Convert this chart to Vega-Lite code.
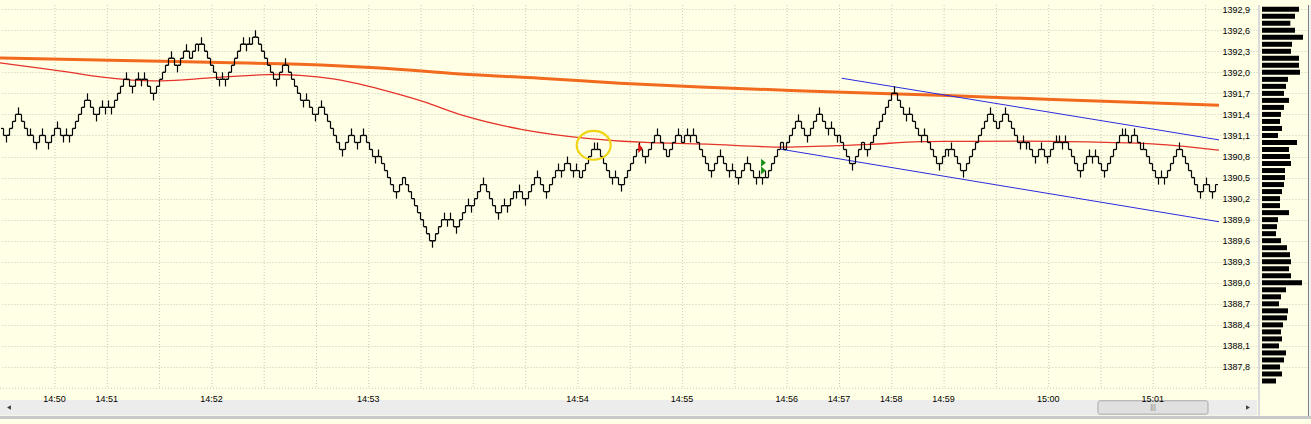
{
"$schema":"https://vega.github.io/schema/vega-lite/v6.json",
"width":1311,"height":424,
"autosize":{"type":"none"},
"padding":0,
"background":"#FFFFE6",
"config":{"view":{"stroke":null},"axis":{"labelFont":"Liberation Sans","labelFontSize":9,"labelColor":"#000000","title":null,"labelOverlap":false,"labelSeparation":0,"labelBound":false}},
"datasets":{
"minutes":[{"i":17.17},{"i":34.6},{"i":52.03},{"i":69.47},{"i":86.9},{"i":104.33},{"i":121.77},{"i":139.2},{"i":156.63},{"i":174.07},{"i":191.5},{"i":208.93},{"i":226.37},{"i":243.8},{"i":261.23},{"i":278.67},{"i":296.1},{"i":313.53},{"i":330.97},{"i":348.4},{"i":365.83},{"i":383.27},{"i":400.7}],
"slow":[{"i":-1.17,"p":1392.204},{"i":35.5,"p":1392.173},{"i":72.2,"p":1392.139},{"i":98.8,"p":1392.115},{"i":125.5,"p":1392.062},{"i":152.2,"p":1391.976},{"i":178.8,"p":1391.916},{"i":205.5,"p":1391.846},{"i":232.2,"p":1391.791},{"i":272.2,"p":1391.728},{"i":312.2,"p":1391.672},{"i":349.8,"p":1391.614},{"i":405.17,"p":1391.53}],
"fast":[{"i":-1.17,"p":1392.134},{"i":21.2,"p":1392.009},{"i":32.2,"p":1391.93},{"i":43.2,"p":1391.884},{"i":52.2,"p":1391.87},{"i":65.5,"p":1391.912},{"i":76.5,"p":1391.94},{"i":87.8,"p":1391.976},{"i":98.8,"p":1391.962},{"i":109.8,"p":1391.916},{"i":121.2,"p":1391.811},{"i":132.2,"p":1391.683},{"i":143.2,"p":1391.544},{"i":152.2,"p":1391.383},{"i":172.2,"p":1391.174},{"i":194.5,"p":1391.049},{"i":216.5,"p":1390.987},{"i":233.2,"p":1390.987},{"i":258.8,"p":1390.918},{"i":272.2,"p":1390.951},{"i":288.8,"p":1390.965},{"i":305.5,"p":1391.025},{"i":322.2,"p":1391.011},{"i":338.8,"p":1391.025},{"i":361.2,"p":1391.011},{"i":383.2,"p":1390.987},{"i":394.5,"p":1390.942},{"i":405.17,"p":1390.89}],
"channel":[{"k":"u","i":279.4,"p":1391.916},{"k":"u","i":405.17,"p":1391.037},{"k":"l","i":259.17,"p":1390.904},{"k":"l","i":405.17,"p":1389.87}],
"circle":[{"i":196.73,"p":1390.96}],
"sell":[{"i":212.33,"p":1390.918}],
"buy":[{"i":253.33,"p":1390.711},{"i":253.33,"p":1390.602}],
"profile":[{"p":1392.9,"v":111},{"p":1392.8,"v":99},{"p":1392.7,"v":85},{"p":1392.6,"v":99},{"p":1392.5,"v":123},{"p":1392.4,"v":90},{"p":1392.3,"v":87},{"p":1392.2,"v":111},{"p":1392.1,"v":111},{"p":1392.0,"v":114},{"p":1391.9,"v":78},{"p":1391.8,"v":72},{"p":1391.7,"v":66},{"p":1391.6,"v":81},{"p":1391.5,"v":66},{"p":1391.4,"v":57},{"p":1391.3,"v":54},{"p":1391.2,"v":60},{"p":1391.1,"v":48},{"p":1391.0,"v":105},{"p":1390.9,"v":81},{"p":1390.8,"v":84},{"p":1390.7,"v":87},{"p":1390.6,"v":69},{"p":1390.5,"v":69},{"p":1390.4,"v":66},{"p":1390.3,"v":60},{"p":1390.2,"v":54},{"p":1390.1,"v":54},{"p":1390.0,"v":81},{"p":1389.9,"v":48},{"p":1389.8,"v":45},{"p":1389.7,"v":42},{"p":1389.6,"v":57},{"p":1389.5,"v":75},{"p":1389.4,"v":84},{"p":1389.3,"v":87},{"p":1389.2,"v":81},{"p":1389.1,"v":87},{"p":1389.0,"v":120},{"p":1388.9,"v":72},{"p":1388.8,"v":57},{"p":1388.7,"v":51},{"p":1388.6,"v":78},{"p":1388.5,"v":75},{"p":1388.4,"v":63},{"p":1388.3,"v":57},{"p":1388.2,"v":60},{"p":1388.1,"v":51},{"p":1388.0,"v":72},{"p":1387.9,"v":66},{"p":1387.8,"v":54},{"p":1387.7,"v":60},{"p":1387.6,"v":42}],
"bars":[
{"i":0,"o":1391.2,"h":1391.2,"l":1391.1,"c":1391.1},
{"i":1,"o":1391.1,"h":1391.1,"l":1391.0,"c":1391.1},
{"i":2,"o":1391.1,"h":1391.2,"l":1391.1,"c":1391.2},
{"i":3,"o":1391.2,"h":1391.3,"l":1391.2,"c":1391.3},
{"i":4,"o":1391.3,"h":1391.4,"l":1391.3,"c":1391.4},
{"i":5,"o":1391.4,"h":1391.5,"l":1391.4,"c":1391.4},
{"i":6,"o":1391.4,"h":1391.4,"l":1391.3,"c":1391.3},
{"i":7,"o":1391.3,"h":1391.3,"l":1391.2,"c":1391.2},
{"i":8,"o":1391.2,"h":1391.2,"l":1391.1,"c":1391.1},
{"i":9,"o":1391.1,"h":1391.2,"l":1391.1,"c":1391.1},
{"i":10,"o":1391.1,"h":1391.1,"l":1391.0,"c":1391.0},
{"i":11,"o":1391.0,"h":1391.0,"l":1390.9,"c":1391.0},
{"i":12,"o":1391.0,"h":1391.1,"l":1391.0,"c":1391.1},
{"i":13,"o":1391.1,"h":1391.2,"l":1391.1,"c":1391.1},
{"i":14,"o":1391.1,"h":1391.1,"l":1391.0,"c":1391.0},
{"i":15,"o":1391.0,"h":1391.0,"l":1390.9,"c":1391.0},
{"i":16,"o":1391.0,"h":1391.1,"l":1391.0,"c":1391.1},
{"i":17,"o":1391.1,"h":1391.2,"l":1391.1,"c":1391.2},
{"i":18,"o":1391.2,"h":1391.3,"l":1391.2,"c":1391.2},
{"i":19,"o":1391.2,"h":1391.2,"l":1391.1,"c":1391.1},
{"i":20,"o":1391.1,"h":1391.1,"l":1391.0,"c":1391.1},
{"i":21,"o":1391.1,"h":1391.2,"l":1391.1,"c":1391.1},
{"i":22,"o":1391.1,"h":1391.1,"l":1391.0,"c":1391.1},
{"i":23,"o":1391.1,"h":1391.2,"l":1391.1,"c":1391.2},
{"i":24,"o":1391.2,"h":1391.3,"l":1391.2,"c":1391.3},
{"i":25,"o":1391.3,"h":1391.4,"l":1391.3,"c":1391.4},
{"i":26,"o":1391.4,"h":1391.5,"l":1391.4,"c":1391.5},
{"i":27,"o":1391.5,"h":1391.6,"l":1391.5,"c":1391.6},
{"i":28,"o":1391.6,"h":1391.7,"l":1391.6,"c":1391.6},
{"i":29,"o":1391.6,"h":1391.6,"l":1391.5,"c":1391.5},
{"i":30,"o":1391.5,"h":1391.5,"l":1391.4,"c":1391.4},
{"i":31,"o":1391.4,"h":1391.4,"l":1391.3,"c":1391.4},
{"i":32,"o":1391.4,"h":1391.5,"l":1391.4,"c":1391.5},
{"i":33,"o":1391.5,"h":1391.6,"l":1391.5,"c":1391.5},
{"i":34,"o":1391.5,"h":1391.5,"l":1391.4,"c":1391.5},
{"i":35,"o":1391.5,"h":1391.6,"l":1391.5,"c":1391.5},
{"i":36,"o":1391.5,"h":1391.5,"l":1391.4,"c":1391.5},
{"i":37,"o":1391.5,"h":1391.6,"l":1391.5,"c":1391.6},
{"i":38,"o":1391.6,"h":1391.7,"l":1391.6,"c":1391.7},
{"i":39,"o":1391.7,"h":1391.8,"l":1391.7,"c":1391.8},
{"i":40,"o":1391.8,"h":1391.9,"l":1391.8,"c":1391.9},
{"i":41,"o":1391.9,"h":1392.0,"l":1391.9,"c":1391.9},
{"i":42,"o":1391.9,"h":1391.9,"l":1391.8,"c":1391.8},
{"i":43,"o":1391.8,"h":1391.8,"l":1391.7,"c":1391.8},
{"i":44,"o":1391.8,"h":1391.9,"l":1391.8,"c":1391.9},
{"i":45,"o":1391.9,"h":1392.0,"l":1391.9,"c":1391.9},
{"i":46,"o":1391.9,"h":1391.9,"l":1391.8,"c":1391.9},
{"i":47,"o":1391.9,"h":1392.0,"l":1391.9,"c":1391.9},
{"i":48,"o":1391.9,"h":1391.9,"l":1391.8,"c":1391.8},
{"i":49,"o":1391.8,"h":1391.8,"l":1391.7,"c":1391.7},
{"i":50,"o":1391.7,"h":1391.7,"l":1391.6,"c":1391.7},
{"i":51,"o":1391.7,"h":1391.8,"l":1391.7,"c":1391.8},
{"i":52,"o":1391.8,"h":1391.9,"l":1391.8,"c":1391.9},
{"i":53,"o":1391.9,"h":1392.0,"l":1391.9,"c":1392.0},
{"i":54,"o":1392.0,"h":1392.1,"l":1392.0,"c":1392.1},
{"i":55,"o":1392.1,"h":1392.2,"l":1392.1,"c":1392.2},
{"i":56,"o":1392.2,"h":1392.3,"l":1392.2,"c":1392.2},
{"i":57,"o":1392.2,"h":1392.2,"l":1392.1,"c":1392.1},
{"i":58,"o":1392.1,"h":1392.1,"l":1392.0,"c":1392.1},
{"i":59,"o":1392.1,"h":1392.2,"l":1392.1,"c":1392.2},
{"i":60,"o":1392.2,"h":1392.3,"l":1392.2,"c":1392.3},
{"i":61,"o":1392.3,"h":1392.4,"l":1392.3,"c":1392.3},
{"i":62,"o":1392.3,"h":1392.3,"l":1392.2,"c":1392.2},
{"i":63,"o":1392.2,"h":1392.3,"l":1392.2,"c":1392.3},
{"i":64,"o":1392.3,"h":1392.4,"l":1392.3,"c":1392.4},
{"i":65,"o":1392.4,"h":1392.4,"l":1392.3,"c":1392.4},
{"i":66,"o":1392.4,"h":1392.5,"l":1392.4,"c":1392.4},
{"i":67,"o":1392.4,"h":1392.4,"l":1392.3,"c":1392.3},
{"i":68,"o":1392.3,"h":1392.3,"l":1392.2,"c":1392.2},
{"i":69,"o":1392.2,"h":1392.2,"l":1392.1,"c":1392.1},
{"i":70,"o":1392.1,"h":1392.1,"l":1392.0,"c":1392.0},
{"i":71,"o":1392.0,"h":1392.0,"l":1391.9,"c":1391.9},
{"i":72,"o":1391.9,"h":1391.9,"l":1391.8,"c":1391.9},
{"i":73,"o":1391.9,"h":1392.0,"l":1391.9,"c":1391.9},
{"i":74,"o":1391.9,"h":1391.9,"l":1391.8,"c":1391.9},
{"i":75,"o":1391.9,"h":1392.0,"l":1391.9,"c":1392.0},
{"i":76,"o":1392.0,"h":1392.1,"l":1392.0,"c":1392.1},
{"i":77,"o":1392.1,"h":1392.2,"l":1392.1,"c":1392.2},
{"i":78,"o":1392.2,"h":1392.3,"l":1392.2,"c":1392.3},
{"i":79,"o":1392.3,"h":1392.4,"l":1392.3,"c":1392.4},
{"i":80,"o":1392.4,"h":1392.5,"l":1392.4,"c":1392.4},
{"i":81,"o":1392.4,"h":1392.4,"l":1392.3,"c":1392.4},
{"i":82,"o":1392.4,"h":1392.5,"l":1392.4,"c":1392.4},
{"i":83,"o":1392.4,"h":1392.5,"l":1392.4,"c":1392.5},
{"i":84,"o":1392.5,"h":1392.6,"l":1392.5,"c":1392.5},
{"i":85,"o":1392.5,"h":1392.5,"l":1392.4,"c":1392.4},
{"i":86,"o":1392.4,"h":1392.4,"l":1392.3,"c":1392.3},
{"i":87,"o":1392.3,"h":1392.3,"l":1392.2,"c":1392.2},
{"i":88,"o":1392.2,"h":1392.2,"l":1392.1,"c":1392.1},
{"i":89,"o":1392.1,"h":1392.1,"l":1392.0,"c":1392.0},
{"i":90,"o":1392.0,"h":1392.0,"l":1391.9,"c":1391.9},
{"i":91,"o":1391.9,"h":1391.9,"l":1391.8,"c":1391.9},
{"i":92,"o":1391.9,"h":1392.0,"l":1391.9,"c":1392.0},
{"i":93,"o":1392.0,"h":1392.1,"l":1392.0,"c":1392.1},
{"i":94,"o":1392.1,"h":1392.2,"l":1392.1,"c":1392.1},
{"i":95,"o":1392.1,"h":1392.1,"l":1392.0,"c":1392.0},
{"i":96,"o":1392.0,"h":1392.0,"l":1391.9,"c":1391.9},
{"i":97,"o":1391.9,"h":1391.9,"l":1391.8,"c":1391.8},
{"i":98,"o":1391.8,"h":1391.8,"l":1391.7,"c":1391.7},
{"i":99,"o":1391.7,"h":1391.7,"l":1391.6,"c":1391.6},
{"i":100,"o":1391.6,"h":1391.6,"l":1391.5,"c":1391.6},
{"i":101,"o":1391.6,"h":1391.7,"l":1391.6,"c":1391.6},
{"i":102,"o":1391.6,"h":1391.6,"l":1391.5,"c":1391.5},
{"i":103,"o":1391.5,"h":1391.5,"l":1391.4,"c":1391.4},
{"i":104,"o":1391.4,"h":1391.4,"l":1391.3,"c":1391.4},
{"i":105,"o":1391.4,"h":1391.5,"l":1391.4,"c":1391.5},
{"i":106,"o":1391.5,"h":1391.6,"l":1391.5,"c":1391.5},
{"i":107,"o":1391.5,"h":1391.5,"l":1391.4,"c":1391.4},
{"i":108,"o":1391.4,"h":1391.4,"l":1391.3,"c":1391.3},
{"i":109,"o":1391.3,"h":1391.3,"l":1391.2,"c":1391.2},
{"i":110,"o":1391.2,"h":1391.2,"l":1391.1,"c":1391.1},
{"i":111,"o":1391.1,"h":1391.1,"l":1391.0,"c":1391.0},
{"i":112,"o":1391.0,"h":1391.0,"l":1390.9,"c":1390.9},
{"i":113,"o":1390.9,"h":1390.9,"l":1390.8,"c":1390.9},
{"i":114,"o":1390.9,"h":1391.0,"l":1390.9,"c":1391.0},
{"i":115,"o":1391.0,"h":1391.1,"l":1391.0,"c":1391.1},
{"i":116,"o":1391.1,"h":1391.2,"l":1391.1,"c":1391.1},
{"i":117,"o":1391.1,"h":1391.1,"l":1391.0,"c":1391.0},
{"i":118,"o":1391.0,"h":1391.0,"l":1390.9,"c":1391.0},
{"i":119,"o":1391.0,"h":1391.1,"l":1391.0,"c":1391.1},
{"i":120,"o":1391.1,"h":1391.2,"l":1391.1,"c":1391.1},
{"i":121,"o":1391.1,"h":1391.1,"l":1391.0,"c":1391.0},
{"i":122,"o":1391.0,"h":1391.0,"l":1390.9,"c":1390.9},
{"i":123,"o":1390.9,"h":1390.9,"l":1390.8,"c":1390.8},
{"i":124,"o":1390.8,"h":1390.8,"l":1390.7,"c":1390.8},
{"i":125,"o":1390.8,"h":1390.9,"l":1390.8,"c":1390.8},
{"i":126,"o":1390.8,"h":1390.8,"l":1390.7,"c":1390.7},
{"i":127,"o":1390.7,"h":1390.7,"l":1390.6,"c":1390.6},
{"i":128,"o":1390.6,"h":1390.6,"l":1390.5,"c":1390.5},
{"i":129,"o":1390.5,"h":1390.5,"l":1390.4,"c":1390.4},
{"i":130,"o":1390.4,"h":1390.4,"l":1390.3,"c":1390.3},
{"i":131,"o":1390.3,"h":1390.3,"l":1390.2,"c":1390.3},
{"i":132,"o":1390.3,"h":1390.4,"l":1390.3,"c":1390.4},
{"i":133,"o":1390.4,"h":1390.5,"l":1390.4,"c":1390.5},
{"i":134,"o":1390.5,"h":1390.5,"l":1390.4,"c":1390.4},
{"i":135,"o":1390.4,"h":1390.4,"l":1390.3,"c":1390.3},
{"i":136,"o":1390.3,"h":1390.3,"l":1390.2,"c":1390.2},
{"i":137,"o":1390.2,"h":1390.2,"l":1390.1,"c":1390.1},
{"i":138,"o":1390.1,"h":1390.1,"l":1390.0,"c":1390.0},
{"i":139,"o":1390.0,"h":1390.0,"l":1389.9,"c":1389.9},
{"i":140,"o":1389.9,"h":1389.9,"l":1389.8,"c":1389.8},
{"i":141,"o":1389.8,"h":1389.8,"l":1389.7,"c":1389.7},
{"i":142,"o":1389.7,"h":1389.7,"l":1389.6,"c":1389.6},
{"i":143,"o":1389.6,"h":1389.6,"l":1389.5,"c":1389.6},
{"i":144,"o":1389.6,"h":1389.7,"l":1389.6,"c":1389.7},
{"i":145,"o":1389.7,"h":1389.8,"l":1389.7,"c":1389.8},
{"i":146,"o":1389.8,"h":1389.9,"l":1389.8,"c":1389.9},
{"i":147,"o":1389.9,"h":1390.0,"l":1389.9,"c":1389.9},
{"i":148,"o":1389.9,"h":1389.9,"l":1389.8,"c":1389.9},
{"i":149,"o":1389.9,"h":1390.0,"l":1389.9,"c":1389.9},
{"i":150,"o":1389.9,"h":1389.9,"l":1389.8,"c":1389.8},
{"i":151,"o":1389.8,"h":1389.8,"l":1389.7,"c":1389.8},
{"i":152,"o":1389.8,"h":1389.9,"l":1389.8,"c":1389.9},
{"i":153,"o":1389.9,"h":1390.0,"l":1389.9,"c":1390.0},
{"i":154,"o":1390.0,"h":1390.1,"l":1390.0,"c":1390.1},
{"i":155,"o":1390.1,"h":1390.2,"l":1390.1,"c":1390.1},
{"i":156,"o":1390.1,"h":1390.1,"l":1390.0,"c":1390.1},
{"i":157,"o":1390.1,"h":1390.2,"l":1390.1,"c":1390.2},
{"i":158,"o":1390.2,"h":1390.3,"l":1390.2,"c":1390.3},
{"i":159,"o":1390.3,"h":1390.4,"l":1390.3,"c":1390.4},
{"i":160,"o":1390.4,"h":1390.5,"l":1390.4,"c":1390.4},
{"i":161,"o":1390.4,"h":1390.4,"l":1390.3,"c":1390.3},
{"i":162,"o":1390.3,"h":1390.3,"l":1390.2,"c":1390.2},
{"i":163,"o":1390.2,"h":1390.2,"l":1390.1,"c":1390.1},
{"i":164,"o":1390.1,"h":1390.1,"l":1390.0,"c":1390.0},
{"i":165,"o":1390.0,"h":1390.0,"l":1389.9,"c":1390.0},
{"i":166,"o":1390.0,"h":1390.1,"l":1390.0,"c":1390.1},
{"i":167,"o":1390.1,"h":1390.2,"l":1390.1,"c":1390.1},
{"i":168,"o":1390.1,"h":1390.1,"l":1390.0,"c":1390.1},
{"i":169,"o":1390.1,"h":1390.2,"l":1390.1,"c":1390.2},
{"i":170,"o":1390.2,"h":1390.3,"l":1390.2,"c":1390.3},
{"i":171,"o":1390.3,"h":1390.3,"l":1390.2,"c":1390.3},
{"i":172,"o":1390.3,"h":1390.4,"l":1390.3,"c":1390.3},
{"i":173,"o":1390.3,"h":1390.3,"l":1390.2,"c":1390.2},
{"i":174,"o":1390.2,"h":1390.2,"l":1390.1,"c":1390.2},
{"i":175,"o":1390.2,"h":1390.3,"l":1390.2,"c":1390.3},
{"i":176,"o":1390.3,"h":1390.4,"l":1390.3,"c":1390.4},
{"i":177,"o":1390.4,"h":1390.5,"l":1390.4,"c":1390.5},
{"i":178,"o":1390.5,"h":1390.6,"l":1390.5,"c":1390.5},
{"i":179,"o":1390.5,"h":1390.5,"l":1390.4,"c":1390.4},
{"i":180,"o":1390.4,"h":1390.4,"l":1390.3,"c":1390.3},
{"i":181,"o":1390.3,"h":1390.3,"l":1390.2,"c":1390.3},
{"i":182,"o":1390.3,"h":1390.4,"l":1390.3,"c":1390.4},
{"i":183,"o":1390.4,"h":1390.5,"l":1390.4,"c":1390.5},
{"i":184,"o":1390.5,"h":1390.6,"l":1390.5,"c":1390.6},
{"i":185,"o":1390.6,"h":1390.7,"l":1390.6,"c":1390.6},
{"i":186,"o":1390.6,"h":1390.6,"l":1390.5,"c":1390.6},
{"i":187,"o":1390.6,"h":1390.7,"l":1390.6,"c":1390.7},
{"i":188,"o":1390.7,"h":1390.8,"l":1390.7,"c":1390.7},
{"i":189,"o":1390.7,"h":1390.7,"l":1390.6,"c":1390.6},
{"i":190,"o":1390.6,"h":1390.6,"l":1390.5,"c":1390.6},
{"i":191,"o":1390.6,"h":1390.7,"l":1390.6,"c":1390.6},
{"i":192,"o":1390.6,"h":1390.6,"l":1390.5,"c":1390.5},
{"i":193,"o":1390.5,"h":1390.6,"l":1390.5,"c":1390.6},
{"i":194,"o":1390.6,"h":1390.7,"l":1390.6,"c":1390.7},
{"i":195,"o":1390.7,"h":1390.8,"l":1390.7,"c":1390.8},
{"i":196,"o":1390.8,"h":1390.9,"l":1390.8,"c":1390.9},
{"i":197,"o":1390.9,"h":1391.0,"l":1390.9,"c":1390.9},
{"i":198,"o":1390.9,"h":1391.0,"l":1390.9,"c":1390.9},
{"i":199,"o":1390.9,"h":1390.9,"l":1390.8,"c":1390.8},
{"i":200,"o":1390.8,"h":1390.8,"l":1390.7,"c":1390.7},
{"i":201,"o":1390.7,"h":1390.7,"l":1390.6,"c":1390.6},
{"i":202,"o":1390.6,"h":1390.6,"l":1390.5,"c":1390.5},
{"i":203,"o":1390.5,"h":1390.5,"l":1390.4,"c":1390.5},
{"i":204,"o":1390.5,"h":1390.6,"l":1390.5,"c":1390.5},
{"i":205,"o":1390.5,"h":1390.5,"l":1390.4,"c":1390.4},
{"i":206,"o":1390.4,"h":1390.4,"l":1390.3,"c":1390.4},
{"i":207,"o":1390.4,"h":1390.5,"l":1390.4,"c":1390.5},
{"i":208,"o":1390.5,"h":1390.6,"l":1390.5,"c":1390.6},
{"i":209,"o":1390.6,"h":1390.7,"l":1390.6,"c":1390.7},
{"i":210,"o":1390.7,"h":1390.8,"l":1390.7,"c":1390.8},
{"i":211,"o":1390.8,"h":1390.9,"l":1390.8,"c":1390.9},
{"i":212,"o":1390.9,"h":1391.0,"l":1390.9,"c":1390.9},
{"i":213,"o":1390.9,"h":1390.9,"l":1390.8,"c":1390.8},
{"i":214,"o":1390.8,"h":1390.8,"l":1390.7,"c":1390.8},
{"i":215,"o":1390.8,"h":1390.9,"l":1390.8,"c":1390.9},
{"i":216,"o":1390.9,"h":1391.0,"l":1390.9,"c":1391.0},
{"i":217,"o":1391.0,"h":1391.1,"l":1391.0,"c":1391.1},
{"i":218,"o":1391.1,"h":1391.2,"l":1391.1,"c":1391.1},
{"i":219,"o":1391.1,"h":1391.1,"l":1391.0,"c":1391.0},
{"i":220,"o":1391.0,"h":1391.0,"l":1390.9,"c":1390.9},
{"i":221,"o":1390.9,"h":1390.9,"l":1390.8,"c":1390.8},
{"i":222,"o":1390.8,"h":1390.9,"l":1390.8,"c":1390.9},
{"i":223,"o":1390.9,"h":1391.0,"l":1390.9,"c":1391.0},
{"i":224,"o":1391.0,"h":1391.1,"l":1391.0,"c":1391.1},
{"i":225,"o":1391.1,"h":1391.2,"l":1391.1,"c":1391.1},
{"i":226,"o":1391.1,"h":1391.1,"l":1391.0,"c":1391.0},
{"i":227,"o":1391.0,"h":1391.1,"l":1391.0,"c":1391.1},
{"i":228,"o":1391.1,"h":1391.2,"l":1391.1,"c":1391.1},
{"i":229,"o":1391.1,"h":1391.1,"l":1391.0,"c":1391.1},
{"i":230,"o":1391.1,"h":1391.2,"l":1391.1,"c":1391.1},
{"i":231,"o":1391.1,"h":1391.1,"l":1391.0,"c":1391.0},
{"i":232,"o":1391.0,"h":1391.0,"l":1390.9,"c":1390.9},
{"i":233,"o":1390.9,"h":1390.9,"l":1390.8,"c":1390.8},
{"i":234,"o":1390.8,"h":1390.8,"l":1390.7,"c":1390.7},
{"i":235,"o":1390.7,"h":1390.7,"l":1390.6,"c":1390.6},
{"i":236,"o":1390.6,"h":1390.6,"l":1390.5,"c":1390.6},
{"i":237,"o":1390.6,"h":1390.7,"l":1390.6,"c":1390.7},
{"i":238,"o":1390.7,"h":1390.8,"l":1390.7,"c":1390.8},
{"i":239,"o":1390.8,"h":1390.9,"l":1390.8,"c":1390.8},
{"i":240,"o":1390.8,"h":1390.8,"l":1390.7,"c":1390.7},
{"i":241,"o":1390.7,"h":1390.7,"l":1390.6,"c":1390.6},
{"i":242,"o":1390.6,"h":1390.6,"l":1390.5,"c":1390.6},
{"i":243,"o":1390.6,"h":1390.7,"l":1390.6,"c":1390.6},
{"i":244,"o":1390.6,"h":1390.6,"l":1390.5,"c":1390.5},
{"i":245,"o":1390.5,"h":1390.5,"l":1390.4,"c":1390.5},
{"i":246,"o":1390.5,"h":1390.6,"l":1390.5,"c":1390.6},
{"i":247,"o":1390.6,"h":1390.7,"l":1390.6,"c":1390.7},
{"i":248,"o":1390.7,"h":1390.8,"l":1390.7,"c":1390.7},
{"i":249,"o":1390.7,"h":1390.7,"l":1390.6,"c":1390.6},
{"i":250,"o":1390.6,"h":1390.6,"l":1390.5,"c":1390.5},
{"i":251,"o":1390.5,"h":1390.5,"l":1390.4,"c":1390.5},
{"i":252,"o":1390.5,"h":1390.6,"l":1390.5,"c":1390.5},
{"i":253,"o":1390.5,"h":1390.5,"l":1390.4,"c":1390.5},
{"i":254,"o":1390.5,"h":1390.6,"l":1390.5,"c":1390.5},
{"i":255,"o":1390.5,"h":1390.6,"l":1390.5,"c":1390.6},
{"i":256,"o":1390.6,"h":1390.7,"l":1390.6,"c":1390.7},
{"i":257,"o":1390.7,"h":1390.8,"l":1390.7,"c":1390.8},
{"i":258,"o":1390.8,"h":1390.9,"l":1390.8,"c":1390.9},
{"i":259,"o":1390.9,"h":1391.0,"l":1390.9,"c":1391.0},
{"i":260,"o":1391.0,"h":1391.0,"l":1390.9,"c":1390.9},
{"i":261,"o":1390.9,"h":1391.0,"l":1390.9,"c":1391.0},
{"i":262,"o":1391.0,"h":1391.1,"l":1391.0,"c":1391.1},
{"i":263,"o":1391.1,"h":1391.2,"l":1391.1,"c":1391.2},
{"i":264,"o":1391.2,"h":1391.3,"l":1391.2,"c":1391.3},
{"i":265,"o":1391.3,"h":1391.4,"l":1391.3,"c":1391.3},
{"i":266,"o":1391.3,"h":1391.3,"l":1391.2,"c":1391.2},
{"i":267,"o":1391.2,"h":1391.2,"l":1391.1,"c":1391.1},
{"i":268,"o":1391.1,"h":1391.1,"l":1391.0,"c":1391.1},
{"i":269,"o":1391.1,"h":1391.2,"l":1391.1,"c":1391.2},
{"i":270,"o":1391.2,"h":1391.3,"l":1391.2,"c":1391.3},
{"i":271,"o":1391.3,"h":1391.4,"l":1391.3,"c":1391.4},
{"i":272,"o":1391.4,"h":1391.5,"l":1391.4,"c":1391.4},
{"i":273,"o":1391.4,"h":1391.4,"l":1391.3,"c":1391.3},
{"i":274,"o":1391.3,"h":1391.3,"l":1391.2,"c":1391.2},
{"i":275,"o":1391.2,"h":1391.2,"l":1391.1,"c":1391.2},
{"i":276,"o":1391.2,"h":1391.3,"l":1391.2,"c":1391.2},
{"i":277,"o":1391.2,"h":1391.2,"l":1391.1,"c":1391.1},
{"i":278,"o":1391.1,"h":1391.1,"l":1391.0,"c":1391.1},
{"i":279,"o":1391.1,"h":1391.1,"l":1391.0,"c":1391.0},
{"i":280,"o":1391.0,"h":1391.0,"l":1390.9,"c":1390.9},
{"i":281,"o":1390.9,"h":1390.9,"l":1390.8,"c":1390.8},
{"i":282,"o":1390.8,"h":1390.8,"l":1390.7,"c":1390.7},
{"i":283,"o":1390.7,"h":1390.7,"l":1390.6,"c":1390.7},
{"i":284,"o":1390.7,"h":1390.8,"l":1390.7,"c":1390.8},
{"i":285,"o":1390.8,"h":1390.9,"l":1390.8,"c":1390.9},
{"i":286,"o":1390.9,"h":1391.0,"l":1390.9,"c":1391.0},
{"i":287,"o":1391.0,"h":1391.0,"l":1390.9,"c":1390.9},
{"i":288,"o":1390.9,"h":1390.9,"l":1390.8,"c":1390.9},
{"i":289,"o":1390.9,"h":1391.0,"l":1390.9,"c":1391.0},
{"i":290,"o":1391.0,"h":1391.1,"l":1391.0,"c":1391.1},
{"i":291,"o":1391.1,"h":1391.2,"l":1391.1,"c":1391.2},
{"i":292,"o":1391.2,"h":1391.3,"l":1391.2,"c":1391.3},
{"i":293,"o":1391.3,"h":1391.4,"l":1391.3,"c":1391.4},
{"i":294,"o":1391.4,"h":1391.5,"l":1391.4,"c":1391.5},
{"i":295,"o":1391.5,"h":1391.6,"l":1391.5,"c":1391.6},
{"i":296,"o":1391.6,"h":1391.7,"l":1391.6,"c":1391.7},
{"i":297,"o":1391.7,"h":1391.8,"l":1391.7,"c":1391.7},
{"i":298,"o":1391.7,"h":1391.7,"l":1391.6,"c":1391.6},
{"i":299,"o":1391.6,"h":1391.6,"l":1391.5,"c":1391.5},
{"i":300,"o":1391.5,"h":1391.5,"l":1391.4,"c":1391.4},
{"i":301,"o":1391.4,"h":1391.4,"l":1391.3,"c":1391.4},
{"i":302,"o":1391.4,"h":1391.5,"l":1391.4,"c":1391.4},
{"i":303,"o":1391.4,"h":1391.4,"l":1391.3,"c":1391.3},
{"i":304,"o":1391.3,"h":1391.3,"l":1391.2,"c":1391.2},
{"i":305,"o":1391.2,"h":1391.2,"l":1391.1,"c":1391.1},
{"i":306,"o":1391.1,"h":1391.1,"l":1391.0,"c":1391.1},
{"i":307,"o":1391.1,"h":1391.2,"l":1391.1,"c":1391.1},
{"i":308,"o":1391.1,"h":1391.1,"l":1391.0,"c":1391.0},
{"i":309,"o":1391.0,"h":1391.0,"l":1390.9,"c":1390.9},
{"i":310,"o":1390.9,"h":1390.9,"l":1390.8,"c":1390.8},
{"i":311,"o":1390.8,"h":1390.8,"l":1390.7,"c":1390.7},
{"i":312,"o":1390.7,"h":1390.7,"l":1390.6,"c":1390.7},
{"i":313,"o":1390.7,"h":1390.8,"l":1390.7,"c":1390.8},
{"i":314,"o":1390.8,"h":1390.9,"l":1390.8,"c":1390.9},
{"i":315,"o":1390.9,"h":1390.9,"l":1390.8,"c":1390.9},
{"i":316,"o":1390.9,"h":1391.0,"l":1390.9,"c":1390.9},
{"i":317,"o":1390.9,"h":1390.9,"l":1390.8,"c":1390.8},
{"i":318,"o":1390.8,"h":1390.8,"l":1390.7,"c":1390.7},
{"i":319,"o":1390.7,"h":1390.7,"l":1390.6,"c":1390.6},
{"i":320,"o":1390.6,"h":1390.6,"l":1390.5,"c":1390.6},
{"i":321,"o":1390.6,"h":1390.7,"l":1390.6,"c":1390.7},
{"i":322,"o":1390.7,"h":1390.8,"l":1390.7,"c":1390.8},
{"i":323,"o":1390.8,"h":1390.9,"l":1390.8,"c":1390.9},
{"i":324,"o":1390.9,"h":1391.0,"l":1390.9,"c":1391.0},
{"i":325,"o":1391.0,"h":1391.1,"l":1391.0,"c":1391.1},
{"i":326,"o":1391.1,"h":1391.2,"l":1391.1,"c":1391.2},
{"i":327,"o":1391.2,"h":1391.3,"l":1391.2,"c":1391.3},
{"i":328,"o":1391.3,"h":1391.4,"l":1391.3,"c":1391.4},
{"i":329,"o":1391.4,"h":1391.5,"l":1391.4,"c":1391.4},
{"i":330,"o":1391.4,"h":1391.4,"l":1391.3,"c":1391.3},
{"i":331,"o":1391.3,"h":1391.3,"l":1391.2,"c":1391.2},
{"i":332,"o":1391.2,"h":1391.3,"l":1391.2,"c":1391.3},
{"i":333,"o":1391.3,"h":1391.4,"l":1391.3,"c":1391.4},
{"i":334,"o":1391.4,"h":1391.5,"l":1391.4,"c":1391.4},
{"i":335,"o":1391.4,"h":1391.4,"l":1391.3,"c":1391.3},
{"i":336,"o":1391.3,"h":1391.3,"l":1391.2,"c":1391.2},
{"i":337,"o":1391.2,"h":1391.2,"l":1391.1,"c":1391.1},
{"i":338,"o":1391.1,"h":1391.1,"l":1391.0,"c":1391.0},
{"i":339,"o":1391.0,"h":1391.0,"l":1390.9,"c":1391.0},
{"i":340,"o":1391.0,"h":1391.1,"l":1391.0,"c":1391.0},
{"i":341,"o":1391.0,"h":1391.0,"l":1390.9,"c":1391.0},
{"i":342,"o":1391.0,"h":1391.0,"l":1390.9,"c":1390.9},
{"i":343,"o":1390.9,"h":1390.9,"l":1390.8,"c":1390.8},
{"i":344,"o":1390.8,"h":1390.8,"l":1390.7,"c":1390.8},
{"i":345,"o":1390.8,"h":1390.9,"l":1390.8,"c":1390.9},
{"i":346,"o":1390.9,"h":1391.0,"l":1390.9,"c":1390.9},
{"i":347,"o":1390.9,"h":1390.9,"l":1390.8,"c":1390.8},
{"i":348,"o":1390.8,"h":1390.8,"l":1390.7,"c":1390.8},
{"i":349,"o":1390.8,"h":1390.9,"l":1390.8,"c":1390.9},
{"i":350,"o":1390.9,"h":1391.0,"l":1390.9,"c":1391.0},
{"i":351,"o":1391.0,"h":1391.1,"l":1391.0,"c":1391.0},
{"i":352,"o":1391.0,"h":1391.1,"l":1391.0,"c":1391.0},
{"i":353,"o":1391.0,"h":1391.0,"l":1390.9,"c":1391.0},
{"i":354,"o":1391.0,"h":1391.1,"l":1391.0,"c":1391.0},
{"i":355,"o":1391.0,"h":1391.0,"l":1390.9,"c":1390.9},
{"i":356,"o":1390.9,"h":1390.9,"l":1390.8,"c":1390.8},
{"i":357,"o":1390.8,"h":1390.8,"l":1390.7,"c":1390.7},
{"i":358,"o":1390.7,"h":1390.7,"l":1390.6,"c":1390.6},
{"i":359,"o":1390.6,"h":1390.6,"l":1390.5,"c":1390.6},
{"i":360,"o":1390.6,"h":1390.7,"l":1390.6,"c":1390.7},
{"i":361,"o":1390.7,"h":1390.8,"l":1390.7,"c":1390.8},
{"i":362,"o":1390.8,"h":1390.9,"l":1390.8,"c":1390.8},
{"i":363,"o":1390.8,"h":1390.8,"l":1390.7,"c":1390.8},
{"i":364,"o":1390.8,"h":1390.9,"l":1390.8,"c":1390.8},
{"i":365,"o":1390.8,"h":1390.8,"l":1390.7,"c":1390.7},
{"i":366,"o":1390.7,"h":1390.7,"l":1390.6,"c":1390.6},
{"i":367,"o":1390.6,"h":1390.6,"l":1390.5,"c":1390.6},
{"i":368,"o":1390.6,"h":1390.7,"l":1390.6,"c":1390.7},
{"i":369,"o":1390.7,"h":1390.8,"l":1390.7,"c":1390.8},
{"i":370,"o":1390.8,"h":1390.9,"l":1390.8,"c":1390.9},
{"i":371,"o":1390.9,"h":1391.0,"l":1390.9,"c":1391.0},
{"i":372,"o":1391.0,"h":1391.1,"l":1391.0,"c":1391.1},
{"i":373,"o":1391.1,"h":1391.2,"l":1391.1,"c":1391.1},
{"i":374,"o":1391.1,"h":1391.2,"l":1391.1,"c":1391.1},
{"i":375,"o":1391.1,"h":1391.1,"l":1391.0,"c":1391.0},
{"i":376,"o":1391.0,"h":1391.1,"l":1391.0,"c":1391.1},
{"i":377,"o":1391.1,"h":1391.2,"l":1391.1,"c":1391.1},
{"i":378,"o":1391.1,"h":1391.1,"l":1391.0,"c":1391.0},
{"i":379,"o":1391.0,"h":1391.0,"l":1390.9,"c":1390.9},
{"i":380,"o":1390.9,"h":1391.0,"l":1390.9,"c":1390.9},
{"i":381,"o":1390.9,"h":1390.9,"l":1390.8,"c":1390.8},
{"i":382,"o":1390.8,"h":1390.8,"l":1390.7,"c":1390.7},
{"i":383,"o":1390.7,"h":1390.7,"l":1390.6,"c":1390.6},
{"i":384,"o":1390.6,"h":1390.6,"l":1390.5,"c":1390.5},
{"i":385,"o":1390.5,"h":1390.5,"l":1390.4,"c":1390.5},
{"i":386,"o":1390.5,"h":1390.6,"l":1390.5,"c":1390.5},
{"i":387,"o":1390.5,"h":1390.5,"l":1390.4,"c":1390.5},
{"i":388,"o":1390.5,"h":1390.6,"l":1390.5,"c":1390.6},
{"i":389,"o":1390.6,"h":1390.7,"l":1390.6,"c":1390.7},
{"i":390,"o":1390.7,"h":1390.8,"l":1390.7,"c":1390.8},
{"i":391,"o":1390.8,"h":1390.9,"l":1390.8,"c":1390.9},
{"i":392,"o":1390.9,"h":1391.0,"l":1390.9,"c":1390.9},
{"i":393,"o":1390.9,"h":1390.9,"l":1390.8,"c":1390.8},
{"i":394,"o":1390.8,"h":1390.8,"l":1390.7,"c":1390.7},
{"i":395,"o":1390.7,"h":1390.7,"l":1390.6,"c":1390.6},
{"i":396,"o":1390.6,"h":1390.6,"l":1390.5,"c":1390.5},
{"i":397,"o":1390.5,"h":1390.5,"l":1390.4,"c":1390.4},
{"i":398,"o":1390.4,"h":1390.4,"l":1390.3,"c":1390.3},
{"i":399,"o":1390.3,"h":1390.3,"l":1390.2,"c":1390.3},
{"i":400,"o":1390.3,"h":1390.4,"l":1390.3,"c":1390.4},
{"i":401,"o":1390.4,"h":1390.5,"l":1390.4,"c":1390.4},
{"i":402,"o":1390.4,"h":1390.4,"l":1390.3,"c":1390.3},
{"i":403,"o":1390.3,"h":1390.3,"l":1390.2,"c":1390.3},
{"i":404,"o":1390.3,"h":1390.4,"l":1390.3,"c":1390.4}
]
},
"layer":[
{"layer":[
{"data":{"name":"minutes"},
 "mark":{"type":"rule","stroke":"#C9C9BE","strokeDash":[1,2],"strokeWidth":1},
 "encoding":{
  "x":{"field":"i","type":"quantitative","scale":{"domain":[-1.16667,435.83333],"nice":false,"zero":false},
   "axis":{"orient":"bottom","offset":-32,"zindex":2,"tickCount":100,"values":[17.17,34.6,69.47,121.77,191.5,226.37,261.23,278.67,296.1,313.53,348.4,383.27],
    "labelExpr":"datum.value < 25 ? '14:50' : datum.value < 50 ? '14:51' : datum.value < 100 ? '14:52' : datum.value < 150 ? '14:53' : datum.value < 200 ? '14:54' : datum.value < 240 ? '14:55' : datum.value < 270 ? '14:56' : datum.value < 290 ? '14:57' : datum.value < 305 ? '14:58' : datum.value < 330 ? '14:59' : datum.value < 370 ? '15:00' : '15:01'",
    "grid":false,"domain":false,"ticks":false,"labelBaseline":"top","labelPadding":2.5,"labelOffset":-1,"labelFlush":false,"labelOverlap":false,"title":null}},
  "y":{"datum":1392.96,"type":"quantitative","scale":{"domain":[1387.058,1392.96],"nice":false,"zero":false},
   "axis":{"orient":"right","offset":-92,"tickCount":100,"values":[1387.8,1388.1,1388.4,1388.7,1389.0,1389.3,1389.6,1389.9,1390.2,1390.5,1390.8,1391.1,1391.4,1391.7,1392.0,1392.3,1392.6,1392.9],
    "labelExpr":"replace(format(datum.value, '.1f'), '.', ',')",
    "grid":true,"gridColor":"#C9C9BE","gridDash":[1,2],"domain":false,"ticks":false,"labelPadding":3,"labelFlush":false,"labelOverlap":false,"labelSeparation":0,"labelBound":false,"title":null,"labelAlign":"left","labelBaseline":"middle"}},
  "y2":{"datum":1387.496}}},
{"data":{"values":[{}]},
 "mark":{"type":"rule","stroke":"#C9C9BE","strokeDash":[1,2],"strokeWidth":1},
 "encoding":{
  "x":{"datum":-1.16667,"type":"quantitative","scale":{"domain":[-1.16667,435.83333],"nice":false,"zero":false}},
  "x2":{"datum":418.33},
  "y":{"datum":1387.496,"type":"quantitative","scale":{"domain":[1387.058,1392.96],"nice":false,"zero":false}}}},
{"data":{"values":[{}]},
 "mark":{"type":"rect","fill":"#ECECEC"},
 "encoding":{
  "x":{"datum":-1.16667,"type":"quantitative","scale":{"domain":[-1.16667,435.83333],"nice":false,"zero":false}},
  "x2":{"datum":417.83},
  "y":{"datum":1387.33,"type":"quantitative","scale":{"domain":[1387.058,1392.96],"nice":false,"zero":false}},
  "y2":{"datum":1387.107}}},
{"data":{"values":[{}]},
 "mark":{"type":"rect","fill":"#E0E0E0","stroke":"#A9A9A9","strokeWidth":1,"cornerRadius":2},
 "encoding":{
  "x":{"datum":364.83,"type":"quantitative","scale":{"domain":[-1.16667,435.83333],"nice":false,"zero":false}},
  "x2":{"datum":401.5},
  "y":{"datum":1387.318,"type":"quantitative","scale":{"domain":[1387.058,1392.96],"nice":false,"zero":false}},
  "y2":{"datum":1387.127}}},
{"data":{"values":[{}]},
 "mark":{"type":"text","text":"|||","fontSize":7,"font":"Liberation Sans","fill":"#7A7A7A"},
 "encoding":{
  "x":{"datum":383.17,"type":"quantitative","scale":{"domain":[-1.16667,435.83333],"nice":false,"zero":false}},
  "y":{"datum":1387.222,"type":"quantitative","scale":{"domain":[1387.058,1392.96],"nice":false,"zero":false}}}},
{"data":{"values":[{}]},
 "mark":{"type":"point","shape":"triangle-left","size":20,"filled":true,"fill":"#3C3C3C","opacity":1},
 "encoding":{
  "x":{"datum":1.83,"type":"quantitative","scale":{"domain":[-1.16667,435.83333],"nice":false,"zero":false}},
  "y":{"datum":1387.222,"type":"quantitative","scale":{"domain":[1387.058,1392.96],"nice":false,"zero":false}}}},
{"data":{"values":[{}]},
 "mark":{"type":"point","shape":"triangle-right","size":20,"filled":true,"fill":"#3C3C3C","opacity":1},
 "encoding":{
  "x":{"datum":414.83,"type":"quantitative","scale":{"domain":[-1.16667,435.83333],"nice":false,"zero":false}},
  "y":{"datum":1387.222,"type":"quantitative","scale":{"domain":[1387.058,1392.96],"nice":false,"zero":false}}}},
{"data":{"values":[{}]},
 "mark":{"type":"rule","stroke":"#DADADA","strokeWidth":2},
 "encoding":{
  "x":{"datum":418.5,"type":"quantitative","scale":{"domain":[-1.16667,435.83333],"nice":false,"zero":false}},
  "y":{"datum":1392.96,"type":"quantitative","scale":{"domain":[1387.058,1392.96],"nice":false,"zero":false}},
  "y2":{"datum":1387.107}}},
{"data":{"values":[{}]},
 "mark":{"type":"rect","fill":"#F2F2F2"},
 "encoding":{
  "x":{"datum":435.0,"type":"quantitative","scale":{"domain":[-1.16667,435.83333],"nice":false,"zero":false}},
  "x2":{"datum":435.83333},
  "y":{"datum":1392.96,"type":"quantitative","scale":{"domain":[1387.058,1392.96],"nice":false,"zero":false}},
  "y2":{"datum":1387.058}}},
{"data":{"values":[{}]},
 "mark":{"type":"rect","fill":"#C8C8C8"},
 "encoding":{
  "x":{"datum":-1.16667,"type":"quantitative","scale":{"domain":[-1.16667,435.83333],"nice":false,"zero":false}},
  "x2":{"datum":435.83333},
  "y":{"datum":1387.1,"type":"quantitative","scale":{"domain":[1387.058,1392.96],"nice":false,"zero":false}},
  "y2":{"datum":1387.058}}},
{"data":{"values":[{}]},
 "mark":{"type":"rule","stroke":"#808080","strokeWidth":1},
 "encoding":{
  "x":{"datum":435.0,"type":"quantitative","scale":{"domain":[-1.16667,435.83333],"nice":false,"zero":false}},
  "y":{"datum":1392.96,"type":"quantitative","scale":{"domain":[1387.058,1392.96],"nice":false,"zero":false}},
  "y2":{"datum":1387.1}}},
{"data":{"name":"slow"},
 "mark":{"type":"line","stroke":"#F26A1E","strokeWidth":3,"interpolate":"monotone"},
 "encoding":{
  "x":{"field":"i","type":"quantitative","scale":{"domain":[-1.16667,435.83333],"nice":false,"zero":false}},
  "y":{"field":"p","type":"quantitative","scale":{"domain":[1387.058,1392.96],"nice":false,"zero":false}}}},
{"data":{"name":"fast"},
 "mark":{"type":"line","stroke":"#E5332A","strokeWidth":1.3,"interpolate":"basis"},
 "encoding":{
  "x":{"field":"i","type":"quantitative","scale":{"domain":[-1.16667,435.83333],"nice":false,"zero":false}},
  "y":{"field":"p","type":"quantitative","scale":{"domain":[1387.058,1392.96],"nice":false,"zero":false}}}},
{"data":{"name":"channel"},
 "mark":{"type":"line","stroke":"#2B2BE0","strokeWidth":1},
 "encoding":{
  "x":{"field":"i","type":"quantitative","scale":{"domain":[-1.16667,435.83333],"nice":false,"zero":false}},
  "y":{"field":"p","type":"quantitative","scale":{"domain":[1387.058,1392.96],"nice":false,"zero":false}},
  "detail":{"field":"k","type":"nominal"}}},
{"data":{"name":"bars"},
 "mark":{"type":"rule","stroke":"#000000","strokeWidth":1.2},
 "encoding":{
  "x":{"field":"i","type":"quantitative","scale":{"domain":[-1.16667,435.83333],"nice":false,"zero":false}},
  "y":{"field":"l","type":"quantitative","scale":{"domain":[1387.058,1392.96],"nice":false,"zero":false}},
  "y2":{"field":"h"}}},
{"data":{"name":"bars"},
 "mark":{"type":"tick","orient":"horizontal","size":2.5,"thickness":1.2,"xOffset":-1.25,"color":"#000000","opacity":1},
 "encoding":{
  "x":{"field":"i","type":"quantitative","scale":{"domain":[-1.16667,435.83333],"nice":false,"zero":false}},
  "y":{"field":"o","type":"quantitative","scale":{"domain":[1387.058,1392.96],"nice":false,"zero":false}}}},
{"data":{"name":"bars"},
 "mark":{"type":"tick","orient":"horizontal","size":2.5,"thickness":1.2,"xOffset":1.25,"color":"#000000","opacity":1},
 "encoding":{
  "x":{"field":"i","type":"quantitative","scale":{"domain":[-1.16667,435.83333],"nice":false,"zero":false}},
  "y":{"field":"c","type":"quantitative","scale":{"domain":[1387.058,1392.96],"nice":false,"zero":false}}}},
{"data":{"name":"circle"},
 "mark":{"type":"point","shape":"M 1 0 C 1 0.4695 0.5523 0.85 0 0.85 C -0.5523 0.85 -1 0.4695 -1 0 C -1 -0.4695 -0.5523 -0.85 0 -0.85 C 0.5523 -0.85 1 -0.4695 1 0 Z","size":1156,"filled":false,"stroke":"#F0D412","strokeWidth":2.2,"opacity":1},
 "encoding":{
  "x":{"field":"i","type":"quantitative","scale":{"domain":[-1.16667,435.83333],"nice":false,"zero":false}},
  "y":{"field":"p","type":"quantitative","scale":{"domain":[1387.058,1392.96],"nice":false,"zero":false}}}},
{"data":{"name":"sell"},
 "mark":{"type":"point","shape":"M -0.45 -1 L 0.45 0 L -0.45 1 Z","size":100,"filled":true,"fill":"#E01010","strokeWidth":0,"opacity":1},
 "encoding":{
  "x":{"field":"i","type":"quantitative","scale":{"domain":[-1.16667,435.83333],"nice":false,"zero":false}},
  "y":{"field":"p","type":"quantitative","scale":{"domain":[1387.058,1392.96],"nice":false,"zero":false}}}},
{"data":{"name":"buy"},
 "mark":{"type":"point","shape":"M -0.6 -1 L 0.6 0 L -0.6 1 Z","size":64,"filled":true,"fill":"#1A8F1A","strokeWidth":0,"opacity":1},
 "encoding":{
  "x":{"field":"i","type":"quantitative","scale":{"domain":[-1.16667,435.83333],"nice":false,"zero":false}},
  "y":{"field":"p","type":"quantitative","scale":{"domain":[1387.058,1392.96],"nice":false,"zero":false}}}}
]},
{"data":{"name":"profile"},
 "mark":{"type":"bar","orient":"horizontal","size":5,"color":"#000000"},
 "encoding":{
  "x":{"field":"v","type":"quantitative","scale":{"domain":[-3786,147],"nice":false,"zero":true},"axis":null},
  "y":{"field":"p","type":"quantitative","scale":{"domain":[1387.058,1392.96],"nice":false,"zero":false}}}}
],
"resolve":{"scale":{"x":"independent"}}
}
